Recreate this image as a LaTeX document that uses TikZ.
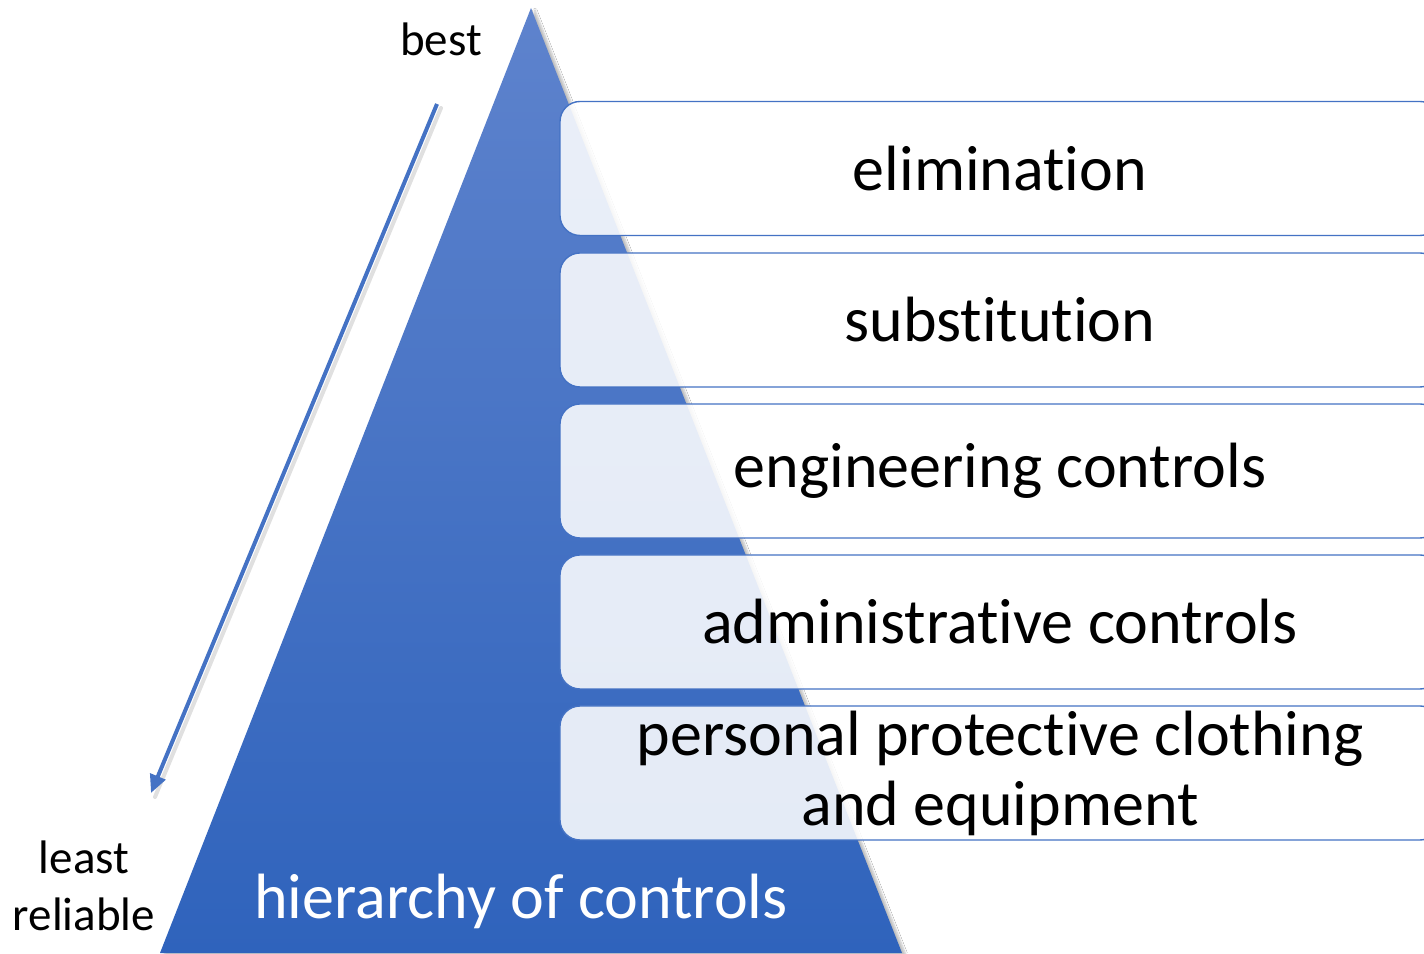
\documentclass[tikz,border=0pt]{standalone}
\usepackage{fontspec}
\setmainfont[RawFeature={-liga;-clig;-calt;-dlig;-rlig}]{Carlito}
\usetikzlibrary{arrows.meta,shadows.blur}
\definecolor{accent}{HTML}{4472C4}
\definecolor{tritop}{RGB}{94,131,205}
\definecolor{tribot}{RGB}{47,99,188}
\definecolor{boxfill}{RGB}{255,255,255}
\tikzset{
  levelbox/.style={rectangle, rounded corners=20pt, draw=accent, line width=1.4pt,
    fill=boxfill, fill opacity=0.87, text opacity=1, minimum width=880pt, minimum height=134pt,
    font=\fontsize{64}{70}\selectfont, align=center, inner sep=0pt},
  sidelabel/.style={font=\fontsize{47}{57}\selectfont, align=center, inner sep=0pt},
  trilabel/.style={font=\fontsize{64}{70}\selectfont, text=white, inner sep=0pt},
  bigarrow/.style={draw=accent, line width=4pt, -{Triangle[length=18pt,width=16pt]}}
}
\begin{document}
\begin{tikzpicture}[x=1pt,y=1pt]
\clip (0,0) rectangle (1424,953);
\fill[white] (0,0) rectangle (1424,953);
% triangle
\coordinate (apex) at (531,945);
\coordinate (bl) at (160,0);
\coordinate (br) at (902,0);
\shade[top color=tritop, bottom color=tribot, blur shadow={shadow xshift=4pt, shadow yshift=-2pt, shadow opacity=25, shadow blur steps=6}] (apex) -- (br) -- (bl) -- cycle;
% level boxes
\node[levelbox] (elim) at (1000,784.5) {elimination};
\node[levelbox] (subst) at (1000,633) {substitution};
\node[levelbox] (eng) at (1000,482) {engineering controls};
\node[levelbox] (adm) at (1000,331) {administrative controls};
\node[levelbox] (ppe) at (1000,180) {personal protective clothing\\and equipment};
% triangle title
\node[trilabel] (title) at (521,52) {hierarchy of controls};
% arrow
\coordinate (astart) at (437,849);
\coordinate (aend) at (151,160);
\draw[line width=4pt, draw=black, opacity=0.12, line cap=round] ([xshift=4pt,yshift=-4pt]astart) -- ([xshift=4pt,yshift=-4pt]aend);
\draw[bigarrow] (astart) -- (aend);
% side labels
\node[sidelabel] (best) at (441,914) {best};
\node[sidelabel] (least) at (84,67) {least\\reliable};
\end{tikzpicture}
\end{document}
